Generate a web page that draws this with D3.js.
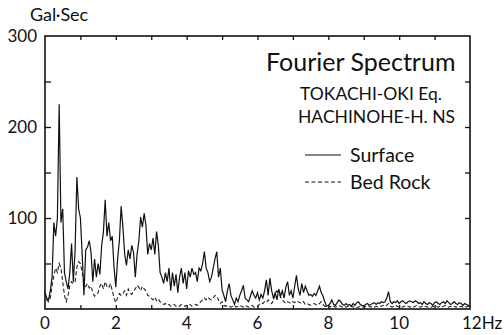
<!doctype html>
<html>
<head>
<meta charset="utf-8">
<script src="https://d3js.org/d3.v7.min.js"></script>
<style>
  body { margin: 0; background: #fff; }
  svg text { font-family: "Lato", "DejaVu Sans", sans-serif; fill: #111; }
</style>
</head>
<body>
<svg id="chart" width="504" height="335"></svg>
<script>
// frequency grid: 0 .. 12 Hz, step 0.05 Hz
var freqStep = 0.05;

// surface spectrum (Gal·Sec), one row per Hz
var surface = [
  18,12,10,20,35,95,80,100,225,95,110,40,30,22,40,72,30,65,145,110,
  100,60,15,65,68,75,62,30,55,35,50,38,70,85,120,80,95,75,80,45,
  24,55,75,113,90,60,48,65,55,70,62,35,60,75,101,90,105,92,60,72,
  65,78,60,85,70,40,35,28,40,30,45,20,40,25,38,18,35,45,28,40,
  22,42,35,45,38,40,30,45,42,50,63,45,40,30,35,45,55,63,35,45,
  21,15,8,20,28,15,10,5,12,8,15,20,26,12,10,8,14,20,15,12,
  18,10,16,12,20,32,15,34,20,12,18,10,22,14,20,12,24,30,15,20,
  12,25,37,22,15,28,18,25,20,15,16,14,17,15,20,25,18,14,8,3,
  4,6,10,5,4,7,10,8,5,4,6,4,5,3,6,4,7,8,5,4,
  3,5,6,4,5,6,7,5,7,6,8,7,8,12,19,8,6,8,7,9,
  6,8,9,7,6,8,9,8,7,9,8,6,7,5,8,6,5,7,6,4,
  7,8,6,5,7,8,6,9,7,5,6,8,6,5,7,6,4,6,5,4,
  3
];

// bed rock spectrum (Gal·Sec)
var bedRock = [
  18,10,8,12,25,37,45,40,50,45,30,15,8,15,25,30,28,30,46,52,
  50,40,30,25,28,23,25,18,14,16,18,25,28,22,30,25,23,28,20,12,
  7,12,17,15,17,20,15,22,18,16,20,22,26,24,20,25,22,20,15,14,
  12,10,13,9,11,8,7,5,6,4,5,3,4,5,3,4,3,5,4,3,
  4,3,5,3,4,5,4,6,8,10,12,10,13,11,10,12,15,14,10,6,
  8,4,3,4,3,2,3,4,2,3,4,3,2,4,3,2,3,4,2,3,
  3,5,7,6,8,7,10,8,6,10,15,20,18,13,10,8,6,8,7,6,
  8,7,9,8,7,6,8,5,6,5,4,5,6,5,4,6,8,5,3,2,
  3,2,4,3,2,3,4,3,2,3,2,3,2,3,2,3,2,2,3,2,
  2,3,2,3,2,3,2,3,2,3,3,4,3,4,6,3,2,3,4,3,
  2,3,2,3,4,3,2,3,2,3,4,3,2,3,2,3,2,3,2,3,
  2,3,2,3,2,3,4,3,2,3,2,3,2,3,2,3,2,3,2,3,
  2
];

var xTickLabels = ["0", "2", "4", "6", "8", "10", "12Hz"];
var yTickLabels = ["100", "200", "300"];

var svg = d3.select("#chart");
var plotLeft = 45, plotRight = 470, plotTop = 36, plotBottom = 309;

var x = d3.scaleLinear().domain([0, 12]).range([plotLeft, plotRight]);
var y = d3.scaleLinear().domain([0, 300]).range([plotBottom, plotTop]);

// frame
svg.append("rect")
  .attr("x", plotLeft).attr("y", plotTop)
  .attr("width", plotRight - plotLeft).attr("height", plotBottom - plotTop)
  .attr("fill", "none").attr("stroke", "#111").attr("stroke-width", 1.6);

// inward ticks on all four sides
var fticks = d3.range(1, 12);
var aticks = d3.range(50, 300, 50);
svg.append("g").attr("transform", `translate(0,${plotTop})`)
  .call(d3.axisBottom(x).tickValues(fticks).tickSize(4).tickFormat(""))
  .call(g => g.select(".domain").remove());
svg.append("g").attr("transform", `translate(0,${plotBottom})`)
  .call(d3.axisTop(x).tickValues(fticks).tickSize(4).tickFormat(""))
  .call(g => g.select(".domain").remove());
svg.append("g").attr("transform", `translate(${plotLeft},0)`)
  .call(d3.axisRight(y).tickValues(aticks).tickSize(6).tickFormat(""))
  .call(g => g.select(".domain").remove());
svg.append("g").attr("transform", `translate(${plotRight},0)`)
  .call(d3.axisLeft(y).tickValues(aticks).tickSize(5).tickFormat(""))
  .call(g => g.select(".domain").remove());
svg.selectAll(".tick line").attr("stroke", "#111").attr("stroke-width", 1.3);

// tick labels
svg.append("g").selectAll("text")
  .data(xTickLabels)
  .join("text")
  .attr("x", (d, i) => x(i * 2) - (i == 6 ? 8 : 0))
  .attr("y", 329)
  .attr("text-anchor", (d, i) => i == 6 ? "start" : "middle")
  .style("font-size", "17px")
  .text(d => d);

svg.append("g").selectAll("text")
  .data(yTickLabels)
  .join("text")
  .attr("x", 37)
  .attr("y", (d, i) => y((i + 1) * 100) + 6)
  .attr("text-anchor", "end")
  .style("font-size", "17px")
  .text(d => d);

svg.append("text").attr("x", 30).attr("y", 21)
  .style("font-size", "18px").text("Gal·Sec");

// spectra
var line = d3.line()
  .x((d, i) => x(i * freqStep))
  .y(d => y(d));

svg.append("path").datum(bedRock)
  .attr("d", line).attr("fill", "none")
  .attr("stroke", "#222").attr("stroke-width", 1.1)
  .attr("stroke-dasharray", "4,2.5");

svg.append("path").datum(surface)
  .attr("d", line).attr("fill", "none")
  .attr("stroke", "#111").attr("stroke-width", 1.2);

// annotations
svg.append("text").attr("x", 266).attr("y", 71)
  .style("font-size", "25px").text("Fourier Spectrum");
svg.append("text").attr("x", 300).attr("y", 100)
  .style("font-size", "17.5px").text("TOKACHI-OKI Eq.");
svg.append("text").attr("x", 298).attr("y", 123)
  .style("font-size", "17.5px").text("HACHINOHE-H. NS");

// legend
var legend = [
  { label: "Surface", dash: null, yy: 155 },
  { label: "Bed Rock", dash: "4,2.5", yy: 182 }
];
var lg = svg.append("g").selectAll("g").data(legend).join("g");
lg.append("line")
  .attr("x1", 305).attr("x2", 341)
  .attr("y1", d => d.yy).attr("y2", d => d.yy)
  .attr("stroke", "#111").attr("stroke-width", 1.2)
  .attr("stroke-dasharray", d => d.dash);
lg.append("text")
  .attr("x", 350).attr("y", d => d.yy + 7)
  .style("font-size", "19.5px")
  .text(d => d.label);
</script>
</body>
</html>
